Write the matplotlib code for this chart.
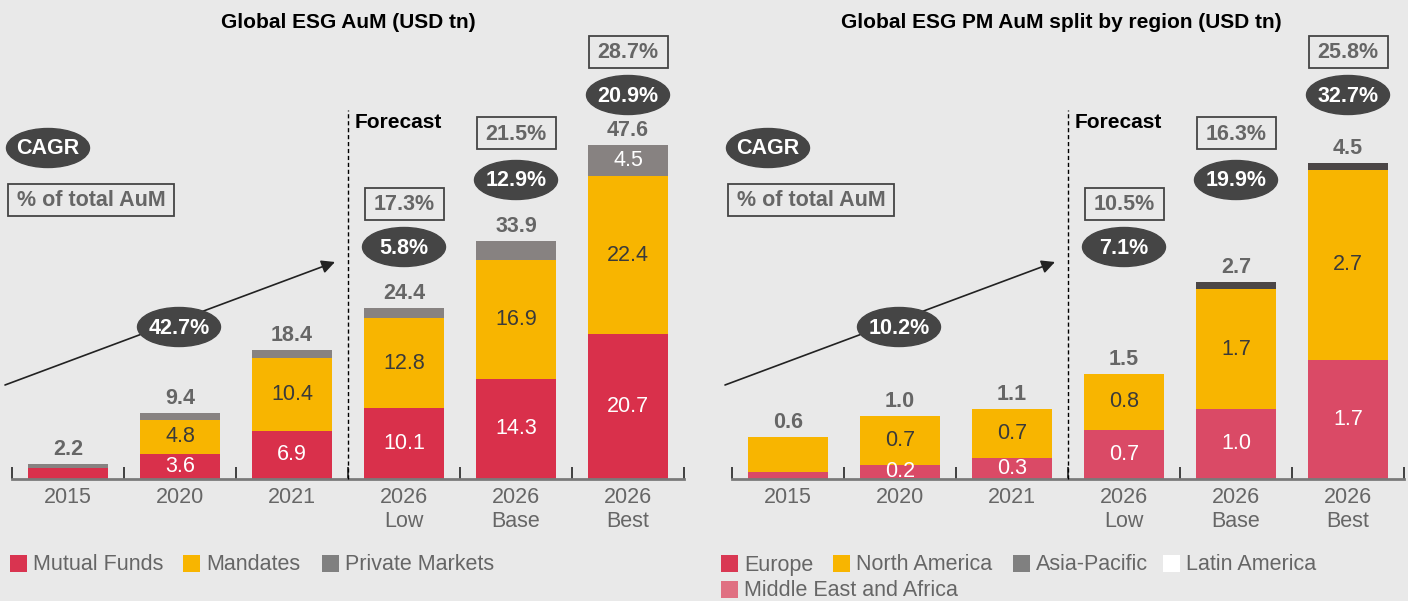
import matplotlib.pyplot as plt
from matplotlib.patches import Ellipse, Rectangle

plt.rcParams['font.family'] = ['Liberation Sans', 'DejaVu Sans']

categories = ['2015', '2020', '2021', '2026\nLow', '2026\nBase', '2026\nBest']

# Global ESG AuM (USD tn)
mutual_funds = [1.6, 3.6, 6.9, 10.1, 14.3, 20.7]
mandates = [0.0, 4.8, 10.4, 12.8, 16.9, 22.4]
private_markets = [0.6, 1.0, 1.1, 1.5, 2.7, 4.5]
esg_totals = ['2.2', '9.4', '18.4', '24.4', '33.9', '47.6']
mf_labels = [None, '3.6', '6.9', '10.1', '14.3', '20.7']
md_labels = [None, '4.8', '10.4', '12.8', '16.9', '22.4']
pm_labels = [None, None, None, None, None, '4.5']
esg_cagr_hist = '42.7%'
esg_cagr_fc = ['5.8%', '12.9%', '20.9%']
esg_share = ['17.3%', '21.5%', '28.7%']

# Global ESG PM AuM split by region (USD tn)
europe = [0.1, 0.2, 0.3, 0.7, 1.0, 1.7]
north_america = [0.5, 0.7, 0.7, 0.8, 1.7, 2.7]
asia_pacific = [0.0, 0.0, 0.0, 0.0, 0.11, 0.1]
pm_totals = ['0.6', '1.0', '1.1', '1.5', '2.7', '4.5']
eu_labels = [None, '0.2', '0.3', '0.7', '1.0', '1.7']
na_labels = [None, '0.7', '0.7', '0.8', '1.7', '2.7']
pm_cagr_hist = '10.2%'
pm_cagr_fc = ['7.1%', '19.9%', '32.7%']
pm_share = ['10.5%', '16.3%', '25.8%']

BG = '#e9e9e9'
GREY_TXT = '#666666'
FS = 15.5
W, H = 1408, 601

fig = plt.figure(figsize=(W / 100, H / 100), dpi=100, facecolor=BG)


def bar_axes(x0, top):
    ax = fig.add_axes([x0 / W, (H - 479) / H, 672 / W, 479 / H])
    ax.set_facecolor('none')
    ax.set_xlim(-0.5, 5.5)
    ax.set_ylim(0, top)
    for s in ['top', 'left', 'right']:
        ax.spines[s].set_visible(False)
    ax.spines['bottom'].set_color('#7a7a7a')
    ax.spines['bottom'].set_linewidth(2)
    ax.set_yticks([])
    ax.set_xticks(range(6))
    ax.set_xticklabels(categories, fontsize=FS, color=GREY_TXT, linespacing=1.15)
    ax.tick_params(axis='x', which='major', length=0, pad=6)
    ax.set_xticks([i - 0.5 for i in range(7)], minor=True)
    ax.tick_params(axis='x', which='minor', direction='in', length=9, width=1.3, color='#333333')
    return ax


def stack(ax, series, colors, labels, label_colors, totals):
    bottom = [0] * 6
    for vals, col, labs, lc in zip(series, colors, labels, label_colors):
        ax.bar(range(6), vals, width=0.72, bottom=bottom, color=col, linewidth=0)
        for i, (v, lab) in enumerate(zip(vals, labs)):
            if lab:
                ax.text(i, bottom[i] + v / 2, lab, ha='center', va='center',
                        fontsize=FS, color=lc)
        bottom = [b + v for b, v in zip(bottom, vals)]
    for i, t in enumerate(totals):
        ax.annotate(t, (i, bottom[i]), xytext=(0, 9), textcoords='offset pixels',
                    ha='center', va='baseline', fontsize=15.5, weight='bold', color=GREY_TXT)


ax1 = bar_axes(12, 479 / 7.02)
ax2 = bar_axes(732, 479 / 70.2)

stack(ax1, [mutual_funds, mandates, private_markets],
      ['#d9304b', '#f8b500', '#878281'],
      [mf_labels, md_labels, pm_labels],
      ['white', '#3a3a3a', 'white'], esg_totals)
stack(ax2, [europe, north_america, asia_pacific],
      ['#da4a66', '#f8b500', '#4b4646'],
      [eu_labels, na_labels, [None] * 6],
      ['white', '#3a3a3a', 'white'], pm_totals)

# overlay in pixel coordinates for call-outs and legend
ov = fig.add_axes([0, 0, 1, 1])
ov.set_xlim(0, W)
ov.set_ylim(H, 0)
ov.axis('off')
ov.patch.set_alpha(0)


def pill(x, y, txt, w=83, h=39):
    ov.add_patch(Ellipse((x, y), w, h, color='#454545', zorder=3))
    ov.text(x, y + 1, txt, ha='center', va='center', color='white',
            fontsize=15.5, weight='bold', zorder=4)


def box(x, y, txt, w=79, h=32):
    ov.add_patch(Rectangle((x - w / 2, y - h / 2), w, h, fc='none',
                           ec='#444444', lw=1.3, zorder=3))
    ov.text(x, y + 1, txt, ha='center', va='center', color=GREY_TXT,
            fontsize=15.5, weight='bold', zorder=4)


for x0, title, hist, fc, share, tx in [
        (12, 'Global ESG AuM (USD tn)', esg_cagr_hist, esg_cagr_fc, esg_share, 348),
        (732, 'Global ESG PM AuM split by region (USD tn)', pm_cagr_hist, pm_cagr_fc, pm_share, 1061)]:
    ov.text(tx, 22, title, ha='center', va='center', fontsize=15, weight='bold', color='black')
    pill(x0 + 36, 148, 'CAGR')
    box(x0 + 79, 200, '% of total AuM', w=166)
    ov.annotate('', xy=(x0 + 323, 262), xytext=(x0 - 7, 385),
                arrowprops=dict(arrowstyle='-|>', color='#222222', lw=1.2,
                                mutation_scale=20, shrinkA=0, shrinkB=0))
    pill(x0 + 167, 327, hist)
    xd = x0 + 336
    ov.plot([xd, xd], [479, 110], color='black', lw=1, ls=(0, (3, 2)))
    ov.text(xd + 7, 122, 'Forecast', ha='left', va='center', fontsize=15,
            weight='bold', color='black')
    for k, (yb, ye) in enumerate([(204, 247), (133, 180), (52, 95)]):
        cx = x0 + (k + 3.5) * 112
        box(cx, yb, share[k])
        pill(cx, ye, fc[k])

legend_items = [
    (10, 564, '#d93450', 'Mutual Funds'), (183, 564, '#f8b500', 'Mandates'),
    (322, 564, '#808080', 'Private Markets'),
    (721, 564, '#d93853', 'Europe'), (833, 564, '#f8b500', 'North America'),
    (1013, 564, '#808080', 'Asia-Pacific'), (1163, 564, 'white', 'Latin America'),
    (721, 590, '#e07082', 'Middle East and Africa'),
]
for x, y, col, lab in legend_items:
    ov.add_patch(Rectangle((x, y - 9), 17, 17, fc=col, lw=0))
    ov.text(x + 23, y + 1, lab, ha='left', va='center', fontsize=FS, color=GREY_TXT)

fig.savefig('out.png', dpi=100, facecolor=BG)
